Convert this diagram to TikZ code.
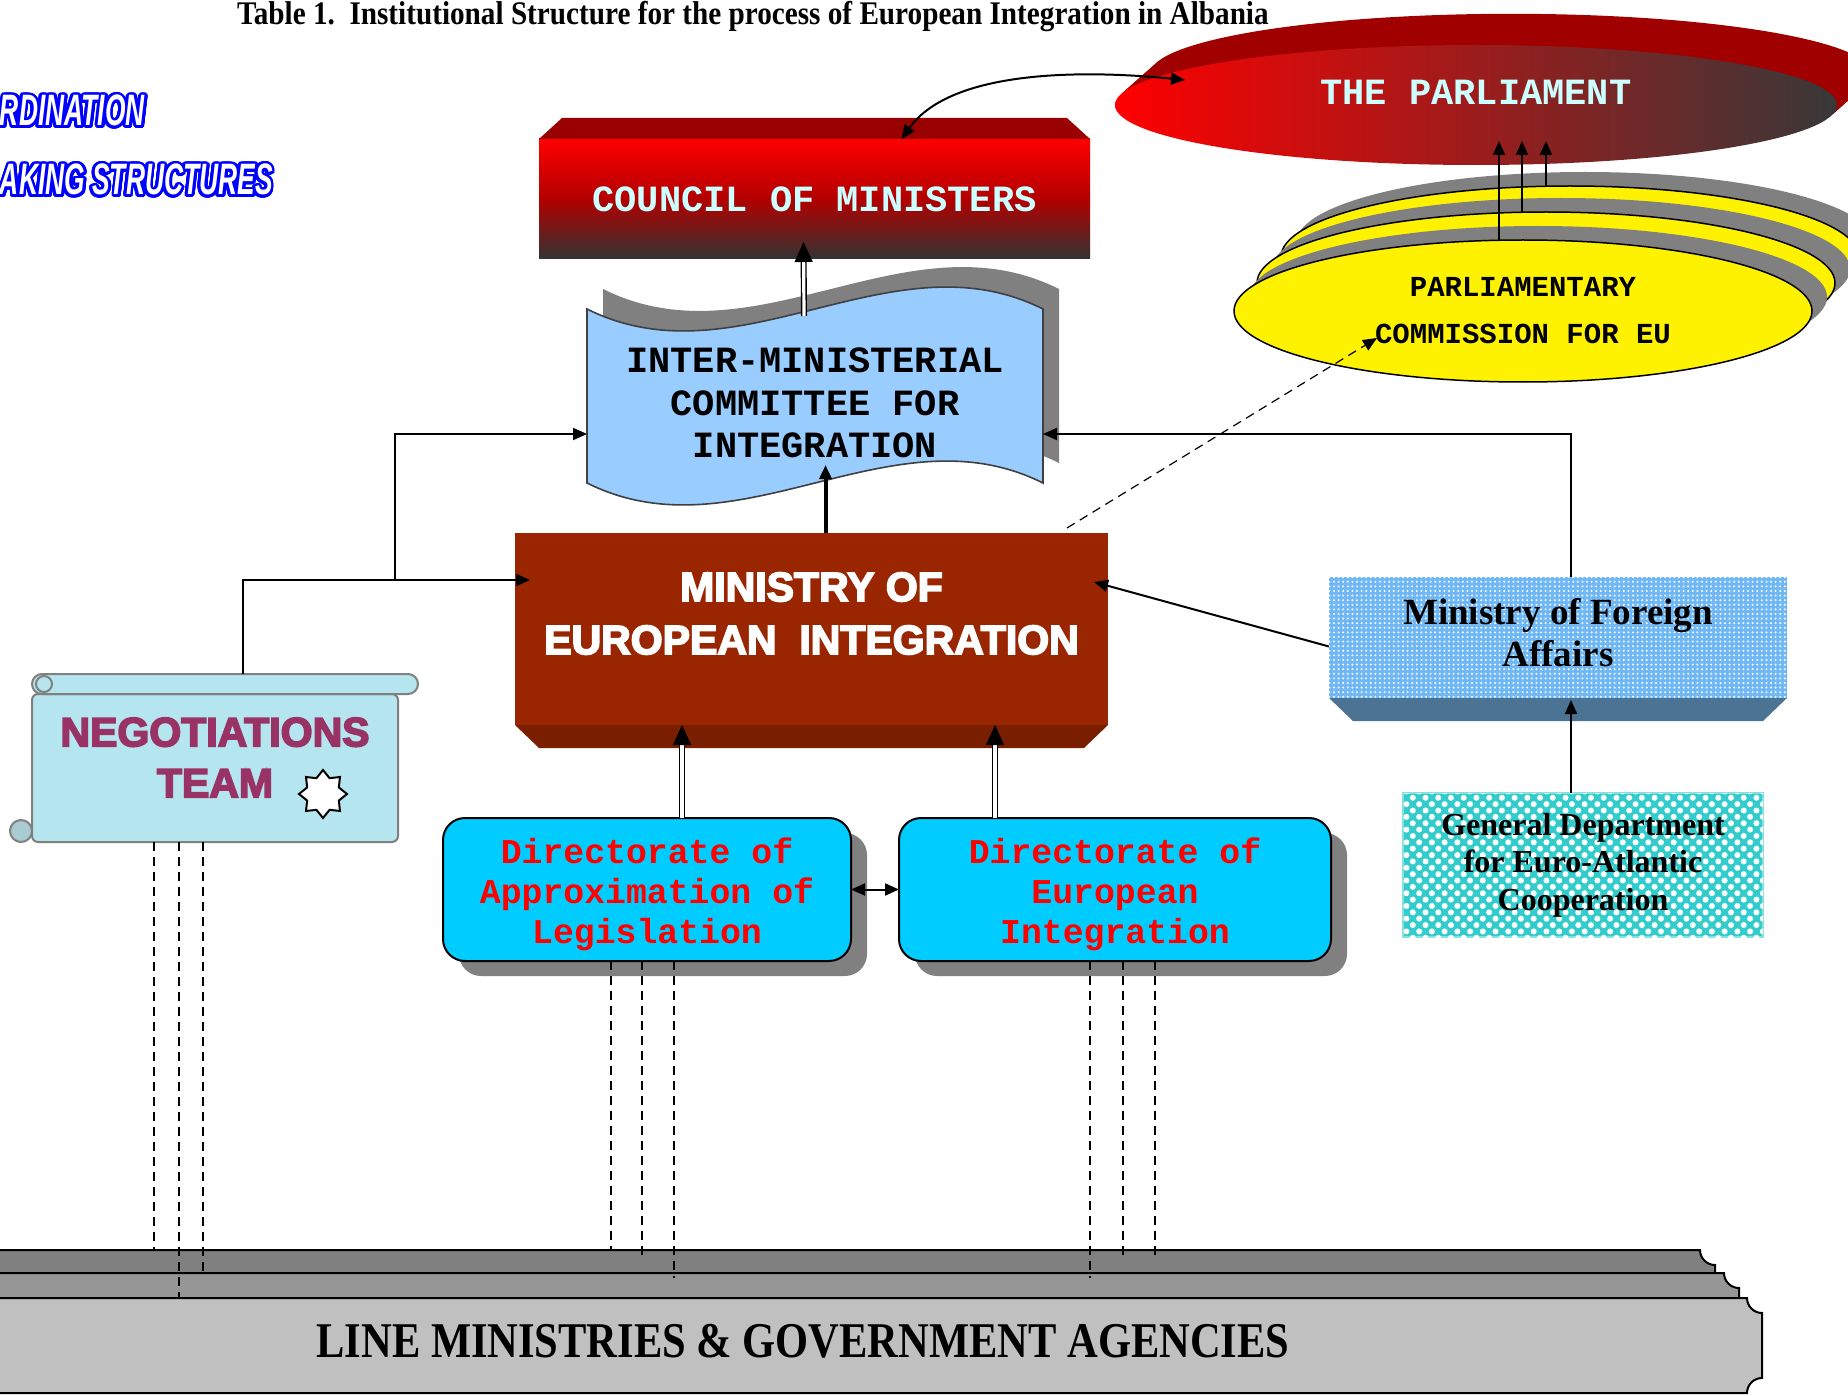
\documentclass[tikz,border=0pt]{standalone}
\usepackage{fontspec}
\usepackage{contour}
\usetikzlibrary{arrows.meta,shapes.geometric,shadows,patterns.meta}
\setmainfont{Liberation Serif}
\newfontfamily\monofont{Liberation Mono}
\newfontfamily\heavyfont[FakeBold=4]{Liberation Sans Bold}
\newfontfamily\titlefont[FakeStretch=0.885]{Liberation Serif}
\newfontfamily\basefont[FakeStretch=0.85]{Liberation Serif}
\newfontfamily\bannerfont[FakeStretch=0.6]{Liberation Sans}
\contourlength{1.4pt}
\contournumber{32}
\definecolor{cmtop}{HTML}{990000}
\definecolor{rimred}{HTML}{A00000}
\definecolor{lighttext}{HTML}{CCFFFF}
\definecolor{imcblue}{HTML}{99CCFF}
\definecolor{meired}{HTML}{992600}
\definecolor{meidark}{HTML}{7A1E00}
\definecolor{mfablue}{HTML}{70B8F5}
\definecolor{mfadark}{HTML}{4A7394}
\definecolor{gdteal}{HTML}{33CCCC}
\definecolor{dirblue}{HTML}{00CCFF}
\definecolor{negfill}{HTML}{B5E5EE}
\definecolor{negcolor}{HTML}{993366}
\definecolor{bargray1}{HTML}{808080}
\definecolor{bargray2}{HTML}{969696}
\definecolor{bargray3}{HTML}{C0C0C0}
\newcommand{\imcwave}{(587,309) .. controls (739,385) and (891,233) .. (1043,309) -- (1043,483) .. controls (891,407) and (739,559) .. (587,483) -- cycle}
\begin{document}
\begin{tikzpicture}[x=0.5pt,y=-0.5pt,inner sep=0pt,outer sep=0pt,line width=1pt,
>={Triangle[length=7pt,width=6pt]},
monotext/.style={font=\monofont\bfseries\fontsize{18.5}{21.25}\selectfont,align=center},
banner/.style={anchor=base west,text=white,font=\bannerfont\bfseries\itshape\fontsize{22}{26}\selectfont},
council/.style={rectangle,minimum width=275.5pt,minimum height=60pt,top color=red,bottom color=black!80,middle color=red!70!black,text=lighttext,monotext},
parlell/.style={ellipse,minimum width=361pt,minimum height=60pt,left color=red,right color=black!78},
comm/.style={ellipse,draw,line width=0.75pt,fill=yellow,minimum width=289pt,minimum height=71pt,align=center,font=\monofont\bfseries\fontsize{14.5}{23.5}\selectfont,drop shadow={shadow xshift=7.5pt,shadow yshift=7pt,opacity=1,fill=gray}},
imcbox/.style={rectangle,minimum width=228pt,minimum height=87pt,monotext},
meibox/.style={rectangle,fill=meired,minimum width=296.5pt,minimum height=96pt},
meitext/.style={text=white,align=center,font=\heavyfont\fontsize{20.5}{26.5}\selectfont},
mfabox/.style={rectangle,fill=mfablue,postaction={pattern={Dots[radius=0.55pt,distance=2.3pt]},pattern color=white},minimum width=229pt,minimum height=60.5pt},
mfatext/.style={align=center,font=\bfseries\fontsize{18.5}{21}\selectfont},
gdbox/.style={rectangle,draw=gdteal!60!white,fill=gdteal,postaction={pattern={Dots[radius=1.5pt,distance=4.5pt,angle=45]},pattern color=white},minimum width=180pt,minimum height=72pt,align=center,font=\bfseries\fontsize{16}{18.75}\selectfont},
negbox/.style={rectangle,rounded corners=3pt,draw=gray,fill=negfill,minimum width=183pt,minimum height=74pt},
negtext/.style={text=negcolor,align=center,font=\heavyfont\fontsize{20.5}{25.5}\selectfont},
scroll/.style={draw=gray,fill=negfill},
dirbox/.style={rectangle,rounded corners=11pt,draw,fill=dirblue,minimum height=71.5pt,drop shadow={shadow xshift=8pt,shadow yshift=-7.5pt,opacity=1,fill=gray}},
dirtext/.style={text=red,align=center,font=\monofont\bfseries\fontsize{17.4}{20}\selectfont},
dbl/.style={double,double distance=1.6pt,line width=0.7pt,>={Triangle[length=10pt,width=9pt]}},
dashline/.style={line width=0.6pt,dash pattern=on 4.5pt off 3pt},
bar/.style={draw,line width=1pt}]
\useasboundingbox (0,0) rectangle (1848,1396);
\clip (0,0) rectangle (1848,1396);
\node[anchor=base west,font=\titlefont\bfseries\fontsize{16.5}{20}\selectfont] (title) at (237,25) {Table 1.~~Institutional Structure for the process of European Integration in Albania};
\node[banner] (coord) at (0,126) {\contour{blue}{RDINATION}};
\node[banner] (making) at (0,195) {\contour{blue}{AKING STRUCTURES}};
\foreach \k in {8,7,...,1}
  \fill[rimred] (1476+4.4*\k,105-3.9*\k) ellipse [x radius=361,y radius=60];
\draw (1476,105) node[parlell,label={[text=lighttext,monotext,yshift=6.5pt]center:THE PARLIAMENT}] (parl) {};
\draw (1570,257) node[comm] (comm3) {};
\draw (1546,283) node[comm] (comm2) {};
\draw (1523,311) node[comm] (comm) {PARLIAMENTARY\\COMMISSION FOR EU};
\foreach \e in {comm,comm2,comm3}
  \draw[->] ([xshift=-12pt]\e.north) -- ([xshift=-12pt,yshift=12pt]\e.north |- parl.south);
\draw (814.5,199) node[council] (council) {COUNCIL OF MINISTERS};
\fill[cmtop] (council.north west) -- ++(23,-21) -- ([xshift=-11.5pt,yshift=10.5pt]council.north east) -- (council.north east) -- cycle;
\draw[<->] ([xshift=43.5pt]council.north) .. controls +(50,-70) and +(-100,-10) .. ([xshift=-145.5pt,yshift=12.5pt]parl.center);
\fill[gray,shift={(16,-20)}] \imcwave;
\filldraw[fill=imcblue,draw=black!75,line width=0.8pt] \imcwave;
\draw (815,403) node[imcbox] (imc) {INTER-MINISTERIAL\\COMMITTEE FOR\\INTEGRATION};
\draw (811.5,629) node[meibox,label={[meitext,yshift=7.75pt]center:MINISTRY OF\\EUROPEAN~~INTEGRATION}] (mei) {};
\fill[meidark] (mei.south west) -- ++(24,23) -- ([xshift=-12pt,yshift=-11.5pt]mei.south east) -- (mei.south east) -- cycle;
\draw (1558,637.5) node[mfabox,label={[mfatext,yshift=2.5pt]center:Ministry of Foreign\\Affairs}] (mfa) {};
\fill[mfadark] (mfa.south west) -- ++(24,23) -- ([xshift=-12pt,yshift=-11.5pt]mfa.south east) -- (mfa.south east) -- cycle;
\draw (1583,865) node[gdbox] (gd) {General Department\\for Euro-Atlantic\\Cooperation};
\draw (215,768) node[negbox,label={[negtext,yshift=5.25pt]center:NEGOTIATIONS\\TEAM}] (neg) {};
\filldraw[scroll,rounded corners=5pt] (32,674) rectangle (418,694);
\draw[scroll] (44,684) circle [radius=8];
\filldraw[scroll,fill=negfill!75!gray] (21,831) circle [radius=11];
\draw (323,794) node[star,star points=8,star point ratio=1.4,draw,fill=white,minimum size=24pt] (badge) {};
\draw (647,889.5) node[dirbox,minimum width=204pt,label={[dirtext,yshift=-2.5pt]center:Directorate of\\Approximation of\\Legislation}] (dal) {};
\draw (1115,889.5) node[dirbox,minimum width=216pt,label={[dirtext,yshift=-2.5pt]center:Directorate of\\European\\Integration}] (dei) {};
\draw[dbl,->] ([xshift=-5.5pt]imc.north) -- ([xshift=-5.5pt,yshift=8.5pt]council.south);
\draw[line width=2pt,->] ([xshift=7pt]mei.north) coordinate (up) -- ([yshift=12.5pt]up |- imc.south);
\draw[->] ([xshift=14pt,yshift=10pt]neg.north) |- ([xshift=7.5pt,yshift=24.5pt]mei.west);
\coordinate (split) at (395,580);
\draw[->] (split) |- ([yshift=-15.5pt]imc.west);
\draw[->] ([xshift=6.5pt]mfa.north) |- ([yshift=-15.5pt]imc.east);
\draw[->] ([yshift=-4.5pt]mfa.west) -- ([xshift=-7pt,yshift=23.5pt]mei.east);
\draw[->] ([xshift=-6pt]gd.north) -- ([xshift=6.5pt,yshift=-1pt]mfa.south);
\draw[dbl,->] ([xshift=17.5pt]dal.north) -- ([xshift=17.5pt]dal.north |- mei.south);
\draw[dbl,->] ([xshift=-60pt]dei.north) -- ([xshift=-60pt]dei.north |- mei.south);
\draw[<->] (dal.east) -- (dei.west);
\draw[dashline,->] ([xshift=-20.5pt,yshift=2.5pt]mei.north east) -- ([xshift=-73pt,yshift=-13.5pt]comm.center);
\filldraw[bar,fill=bargray1] (-5,1250) -- (1700,1250) arc [start angle=180,end angle=90,radius=15] -- (1715,1273) -- (-5,1273) -- cycle;
\filldraw[bar,fill=bargray2] (-5,1273) -- (1724,1273) arc [start angle=180,end angle=90,radius=15] -- (1739,1298) -- (-5,1298) -- cycle;
\filldraw[bar,fill=bargray3] (-5,1298) -- (1747,1298) arc [start angle=180,end angle=90,radius=15] -- (1762,1378) arc [start angle=270,end angle=180,radius=15] -- (-5,1393) -- cycle;
\coordinate (bar1) at (0,1250);
\coordinate (bar1b) at (0,1255);
\coordinate (bar2) at (0,1273);
\coordinate (bar2b) at (0,1278);
\coordinate (bar3) at (0,1298);
\foreach \dx/\b in {-30.5/bar1,-18/bar3,-6/bar2}
  \draw[dashline] ([xshift=\dx pt]neg.south) -- ([xshift=\dx pt]neg.south |- \b);
\foreach \dx/\b in {-18/bar1,-2.5/bar1b,13.5/bar2b}
  \draw[dashline] ([xshift=\dx pt]dal.south) -- ([xshift=\dx pt]dal.south |- \b);
\foreach \dx/\b in {-12.5/bar2b,4/bar1b,20/bar1b}
  \draw[dashline] ([xshift=\dx pt]dei.south) -- ([xshift=\dx pt]dei.south |- \b);
\node[font=\basefont\bfseries\fontsize{25}{30}\selectfont] (lmga) at (803,1341) {LINE MINISTRIES \& GOVERNMENT AGENCIES};
\end{tikzpicture}
\end{document}
